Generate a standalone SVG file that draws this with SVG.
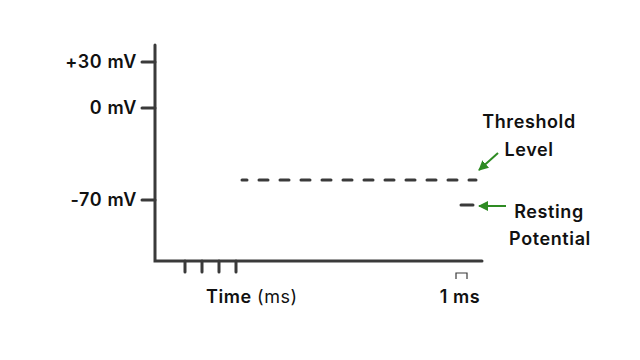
<svg xmlns="http://www.w3.org/2000/svg" width="640" height="360" viewBox="0 0 640 360">
<style>
text{font-family:Inter,"Noto Sans",sans-serif;font-size:18px;font-weight:600;fill:#111;letter-spacing:0.6px}
.ax{stroke:#3a3a3a;stroke-width:3;fill:none;stroke-linecap:round}
.gr{stroke:#2e8b23;stroke-width:2;fill:none}
</style>
<defs>
<marker id="ah" viewBox="0 0 10 10" refX="9" refY="5" markerWidth="5" markerHeight="5" orient="auto-start-reverse">
<path d="M0,0 L10,5 L0,10 z" fill="#2e8b23"/>
</marker>
</defs>
<rect width="640" height="360" fill="#fff"/>
<g id="axes">
<path class="ax" d="M155,45 V261 H482"/>
<path class="ax" d="M142,62 H155 M142,108 H155 M142,200 H155"/>
<path class="ax" d="M185,261 V272 M202,261 V272 M219,261 V272 M236,261 V272"/>
<path d="M456,279 V273 H467 V279" stroke="#3a3a3a" stroke-width="1.2" fill="none"/>
</g>
<g id="labels">
<text x="137" y="68" text-anchor="end">+30 mV</text>
<text x="137" y="114" text-anchor="end">0 mV</text>
<text x="137" y="206" text-anchor="end">-70 mV</text>
<text x="206" y="303">Time <tspan font-weight="400">(ms)</tspan></text>
<text x="460" y="303" text-anchor="middle">1 ms</text>
</g>
<g id="threshold">
<path class="ax" d="M242,180 H476" stroke-width="4" stroke-dasharray="9 12" stroke-dashoffset="4"/>
<text x="529" y="128" text-anchor="middle">Threshold</text>
<text x="529" y="156" text-anchor="middle">Level</text>
</g>
<g id="resting">
<path class="ax" d="M461,205 H473" stroke-width="4"/>
<text x="549" y="218" text-anchor="middle">Resting</text>
<text x="550" y="245" text-anchor="middle">Potential</text>
</g>
<g id="connectors">
<path class="gr" d="M498,153 L479,170" marker-end="url(#ah)"/>
<path class="gr" d="M506,206 L479,206" marker-end="url(#ah)"/>
</g>
</svg>
